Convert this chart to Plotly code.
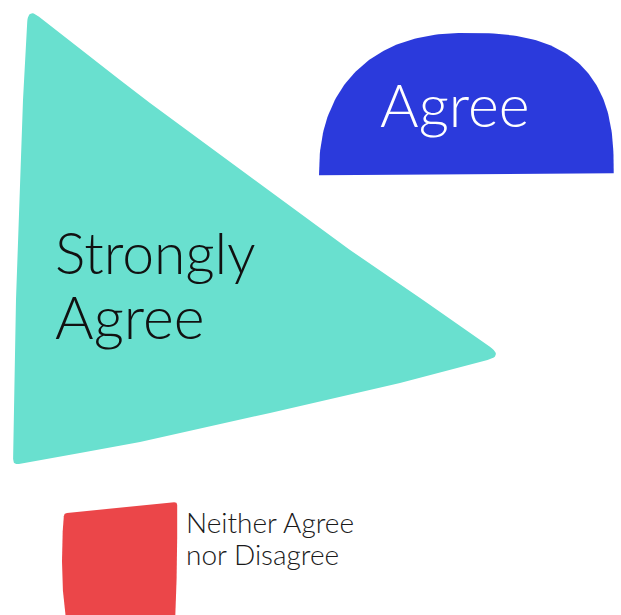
import numpy as np
import plotly.graph_objects as go

# ---------------- data ----------------
categories = ["Strongly Agree", "Agree", "Neither Agree nor Disagree"]
values = [70, 22, 8]          # estimated share (%) encoded by the area of each shape
label_lines = [["Strongly", "Agree"], ["Agree"], ["Neither Agree", "nor Disagree"]]

# ---------------- styling / layout ----------------
W, H = 621, 615
colors = ["#69E0CF", "#2B3ADC", "#EB4649"]
text_colors = ["#111111", "#FFFFFF", "#1a1a1a"]
FONT = "Lato"


def shoelace(pts):
    x, y = pts[:, 0], pts[:, 1]
    return 0.5 * abs(np.dot(x, np.roll(y, -1)) - np.dot(y, np.roll(x, -1)))


def round_corners(verts, n_arc=12):
    pts = []
    m = len(verts)
    for i in range(m):
        x, y, r = verts[i]
        V = np.array([x, y], float)
        if r <= 0:
            pts.append(V)
            continue
        P = np.array(verts[i - 1][:2], float)
        N = np.array(verts[(i + 1) % m][:2], float)
        A = V + r * (P - V) / np.linalg.norm(P - V)
        B = V + r * (N - V) / np.linalg.norm(N - V)
        for t in np.linspace(0, 1, n_arc):
            pts.append((1 - t) ** 2 * A + 2 * (1 - t) * t * V + t ** 2 * B)
    return np.array(pts)


# unit-box templates (u, v in [0,1], v downward) + corner radius in px
tri_template = [
    (0.0306, 0.0000, 14), (0.0204, 0.2013, 0), (0.0061, 0.6389, 0),
    (0.0000, 1.0000, 6), (0.1367, 0.9737, 0), (0.2592, 0.9497, 0),
    (0.5245, 0.8862, 0), (0.7898, 0.8206, 0),
    (1.0000, 0.7615, 16), (0.8367, 0.6389, 0), (0.6878, 0.5295, 0),
    (0.2796, 0.2079, 0), (0.2184, 0.1575, 0),
]
sq_template = [
    (0.0177, 0.0948, 3), (1.0000, 0.0000, 3), (1.0000, 0.3000, 0),
    (0.9950, 0.6500, 0), (0.9823, 1.0000, 0), (0.0354, 1.0000, 0),
    (0.0080, 0.7500, 0), (0.0000, 0.5000, 0), (0.0060, 0.2500, 0),
]


def dome_template(n_left=2.3, n_right=2.7, sag=0.014, k=140):
    th = np.linspace(np.pi, 0, k)
    c, s = np.cos(th), np.sin(th)
    n = np.where(c < 0, n_left, n_right)
    u = 0.5 + 0.5 * np.sign(c) * np.abs(c) ** (2 / n)
    base = 1 - sag * u
    v = base - base * np.abs(s) ** (2 / n)
    return [(a, b, 0) for a, b in zip(u, v)]


templates = [tri_template, dome_template(), sq_template]
aspects = [490 / 457, 292 / 141, 113 / 116]        # width / height of each shape's box
anchors = [(13, 8), (319, 33), (62, 502)]           # top-left of each shape's box
BIG_BOX = (490, 457)                                # box the largest shape is fitted to


def unit_area(template):
    return shoelace(np.array([[a, b] for a, b, _ in template]))


# area scale: the largest value fills its box, others follow proportionally by area
AREA_PER_POINT = unit_area(templates[0]) * BIG_BOX[0] * BIG_BOX[1] / max(values)


def shape_outline(template, aspect, anchor, value):
    frac = unit_area(template)
    area = value * AREA_PER_POINT
    h = np.sqrt(area / (frac * aspect))
    w = aspect * h
    verts = [(anchor[0] + a * w, anchor[1] + b * h, r) for a, b, r in template]
    pts = round_corners(verts)
    return np.vstack([pts, pts[:1]])


fig = go.Figure()
for cat, val, tpl, asp, anc, col in zip(categories, values, templates, aspects, anchors, colors):
    pts = shape_outline(tpl, asp, anc, val)
    fig.add_trace(go.Scatter(
        x=pts[:, 0], y=pts[:, 1], mode="lines", fill="toself",
        fillcolor=col, line=dict(width=0, color=col),
        name=cat, hoverinfo="name", showlegend=False,
    ))

# label placement (left x, vertical centre of cap height of each line), sizes
label_pos = [[(53, 251.5), (53, 316)], [(378, 104)], [(184, 522), (184, 554)]]
label_size = [[57, 59], [59], [28, 28]]
for lines, poss, sizes, tc in zip(label_lines, label_pos, label_size, text_colors):
    for line, (lx, ly), size in zip(lines, poss, sizes):
        fig.add_annotation(
            x=lx, y=ly, xref="x", yref="y", text=line, showarrow=False,
            xanchor="left", yanchor="middle",
            font=dict(family=FONT, size=size, color=tc, weight=300),
        )

fig.update_xaxes(range=[0, W], visible=False, fixedrange=True)
fig.update_yaxes(range=[H, 0], visible=False, fixedrange=True)
fig.update_layout(
    width=W, height=H, margin=dict(l=0, r=0, t=0, b=0),
    paper_bgcolor="white", plot_bgcolor="white",
)
fig.write_html(
    "out.html",
    config={"displayModeBar": False},
    post_script="document.body.style.margin='0';document.body.style.overflow='hidden';",
)
